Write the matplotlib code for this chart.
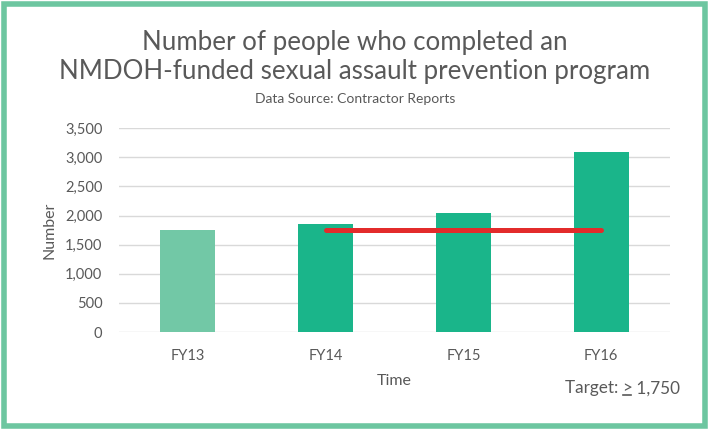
import matplotlib
matplotlib.use('Agg')
import matplotlib.pyplot as plt
import matplotlib.patches as patches
import numpy as np

#--------------------------------------------------#
years = ['FY13', 'FY14', 'FY15', 'FY16']
completed = [1750, 1850, 2040, 3090]
bar_colors = ['#72c8a6', '#1ab58a', '#1ab58a', '#1ab58a']
target = 1750
target_years = ['FY14', 'FY15', 'FY16']
yticks = [0, 500, 1000, 1500, 2000, 2500, 3000, 3500]
title = 'Number of people who completed an\nNMDOH-funded sexual assault prevention program'
subtitle = 'Data Source: Contractor Reports'
#--------------------------------------------------#

plt.rcParams['font.family'] = ['Lato', 'DejaVu Sans']
grey = '#595959'

fig = plt.figure(figsize=(7.1, 4.29), dpi=100)
ax = fig.add_axes([0.1676, 0.2261, 0.7761, 0.4749])

x = np.arange(len(years))
ax.bar(x, completed, width=0.4, color=bar_colors, zorder=2)
tx = [years.index(y) for y in target_years]
ax.plot(tx, [target] * len(tx), color='#e32b2b', lw=3.6, solid_capstyle='round', zorder=3)

ax.set_xlim(-0.5, len(years) - 0.5)
ax.set_ylim(0, 3500)
ax.set_yticks(yticks)
ax.set_yticklabels(['{:,}'.format(v) for v in yticks])
ax.set_xticks(x)
ax.set_xticklabels(years)
ax.grid(axis='y', color='#d9d9d9', lw=1, zorder=0)
for s in ax.spines.values():
    s.set_visible(False)
ax.tick_params(length=0, labelsize=10.5, colors=grey, pad=12)
ax.tick_params(axis='x', pad=12)
ax.set_ylabel('Number', fontsize=11.5, color=grey, labelpad=6)
ax.set_xlabel('Time', fontsize=11.5, color=grey, labelpad=8)

fig.text(0.5, 0.866, title, ha='center', va='center', fontsize=18.6, color=grey, linespacing=1.2)
fig.text(0.5, 0.77, subtitle, ha='center', va='center', fontsize=10, color=grey)

# "Target: >(underlined) 1,750" built from pieces, right edge at x=680px
r = fig.canvas.get_renderer()
ty = 0.095
t3 = fig.text(0.958, ty, ' 1,750', ha='right', va='center', fontsize=12.3, color=grey)
b3 = t3.get_window_extent(r)
t2 = fig.text(b3.x0 / 710, ty, '>', ha='right', va='center', fontsize=12.3, color=grey)
b2 = t2.get_window_extent(r)
t1 = fig.text(b2.x0 / 710, ty, 'Target: ', ha='right', va='center', fontsize=12.3, color=grey)
fig.add_artist(plt.Line2D([(b2.x0 + 1) / 710, (b2.x1 - 1) / 710], [(b2.y0 + 1) / 429] * 2,
                          transform=fig.transFigure, color=grey, lw=1.2))

fig.patches.append(patches.Rectangle((0.005, 0.006), 0.988, 0.985, transform=fig.transFigure,
                                     fill=False, edgecolor='#6dc6a0', lw=4))

fig.savefig('out.png', dpi=100)
